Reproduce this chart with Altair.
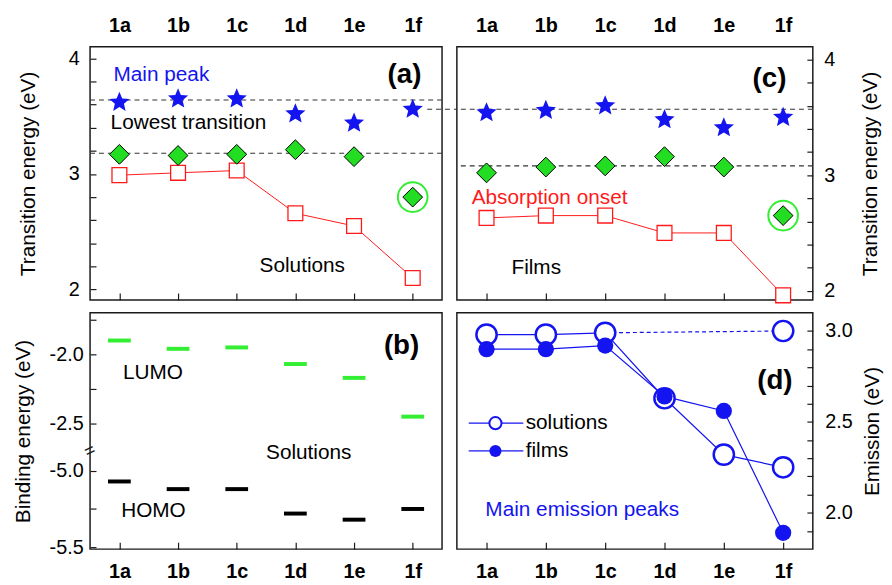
import altair as alt
import pandas as pd

FONT = "Liberation Sans"

# ---------------- data ----------------
cats = ['1a', '1b', '1c', '1d', '1e', '1f']
idx = list(range(len(cats)))

# (a) solutions
sol_main = [3.62, 3.65, 3.65, 3.52, 3.44, 3.56]
sol_lowest = [3.17, 3.16, 3.17, 3.21, 3.15, 2.80]
sol_onset = [2.99, 3.01, 3.03, 2.66, 2.55, 2.10]
sol_guides = [3.64, 3.18]
# (c) films
film_main = [3.54, 3.56, 3.60, 3.48, 3.41, 3.50]
film_lowest = [3.02, 3.07, 3.08, 3.16, 3.07, 2.65]
film_onset = [2.63, 2.65, 2.65, 2.50, 2.50, 1.96]
film_guides = [3.57, 3.08]
highlight_cat = '1f'
# (b) binding energies
lumo = [-1.90, -1.96, -1.95, -2.07, -2.17, -2.45]
homo = [-5.07, -5.12, -5.12, -5.28, -5.32, -5.25]
# (d) emission
em_solutions = [2.98, 2.98, 2.99, 2.63, 2.32, 2.25]
em_solutions_1f_high = 3.00
em_films = [2.90, 2.90, 2.92, 2.64, 2.56, 1.89]

# tick lists
trans_ticks = [2.0, 2.2, 2.4, 2.6, 2.8, 3.0, 3.2, 3.4, 3.6, 3.8, 4.0]
bind_top_ticks = [-1.75, -2.0, -2.25, -2.5]
bind_bot_ticks = [-5.0, -5.25, -5.5]
bind_labels = [-2.0, -2.5, -5.0, -5.5]
em_ticks = [1.9, 2.0, 2.1, 2.2, 2.3, 2.4, 2.5, 2.6, 2.7, 2.8, 2.9, 3.0]

# broken axis mapping for (b): lower segment drawn just below upper one
BREAK_U = -2.841
K = 1.104


def to_u(v):
    return v if v > -4 else BREAK_U + (v + 5.0) * K


# ---------------- style ----------------
W_L = 356
W_R = 360
H_TOP = 256
H_BOT = 239
BLUE = "#1414f0"
RED = "#ff1a1a"
GREEN = "#22dd22"
LGREEN = "#33ee33"
FRAME = "#1a1a1a"
ANN = 21

x_scale = alt.Scale(domain=[-0.5, 5.5], nice=False, zero=False)
cat_expr = "[" + ",".join(f"'{c}'" for c in cats) + "][round(datum.value)]"

STAR = ("M0,-1L0.2645,-0.364L0.951,-0.309L0.428,0.139L0.588,0.809L0,0.45"
        "L-0.588,0.809L-0.428,0.139L-0.951,-0.309L-0.2645,-0.364Z")


def ax_top():
    return alt.Axis(orient='top', values=idx, labelExpr=cat_expr, ticks=False, tickSize=0,
                    domain=False, grid=False, labelFontWeight='bold', labelFontSize=20,
                    labelPadding=12, labelAngle=0, title=None)


def ax_bottom_ticks():
    return alt.Axis(orient='bottom', values=idx, labels=False, ticks=True, tickSize=7,
                    offset=-7, domain=False, grid=False, title=None)


def ax_bottom_labels():
    return alt.Axis(orient='bottom', values=idx, labelExpr=cat_expr, ticks=True, tickSize=7,
                    offset=-7, domain=False, grid=False, labelFontWeight='bold',
                    labelFontSize=20, labelPadding=13, labelAngle=0, title=None)


int_expr = "abs(datum.value - round(datum.value)) < 0.001 ? format(datum.value, 'd') : ''"


def ax_trans(orient, lp, tp):
    kw = {}
    if orient == 'right':
        kw = dict(titleAngle=270, titleBaseline='top')
    return alt.Axis(orient=orient, values=trans_ticks, labelExpr=int_expr, tickSize=6, offset=-6,
                    domain=False, grid=False, labelFontSize=20, labelPadding=lp,
                    title='Transition energy (eV)', titleFontSize=21, titleFontWeight='normal',
                    titlePadding=tp, **kw)


def text_layer(df, X, Y):
    return alt.Chart(df).mark_text(align='left', baseline='middle', font=FONT).encode(
        x=X('i'), y=Y('v'),
        text='text:N',
        color=alt.Color('color:N', scale=None),
        size=alt.Size('size:Q', scale=None),
    )


def label_layer(df, X, Y):
    return alt.Chart(df).mark_text(align='center', baseline='middle', font=FONT,
                                   fontWeight='bold', fontSize=28, color='black').encode(
        x=X('i'), y=Y('v'), text='text:N')


def transition_panel(main, low, onset, guides, y_dom, y_orient, lp, tp, texts, plabel,
                     width, extend_first=False):
    df = pd.DataFrame({'i': idx, 'cat': cats, 'main': main, 'low': low, 'onset': onset})
    ys = alt.Scale(domain=y_dom, nice=False, zero=False)
    yax = ax_trans(y_orient, lp, tp)
    base = alt.Chart(df)

    def Y(f):
        return alt.Y(f'{f}:Q', scale=ys, axis=yax)

    def X(f, axis=None):
        return alt.X(f'{f}:Q', scale=x_scale, axis=axis)

    layers = []
    gdf = pd.DataFrame({'g': guides})
    layers.append(alt.Chart(gdf).mark_rule(strokeDash=[5, 4], color='#333', strokeWidth=1.1)
                  .encode(y=Y('g')))
    if extend_first:
        layers.append(alt.Chart(pd.DataFrame({'g': guides[:1]}))
                      .mark_rule(strokeDash=[5, 4], color='#333', strokeWidth=1.1)
                      .encode(x=alt.value(-30), x2=alt.value(0), y=Y('g')))
    layers.append(base.mark_line(color=RED, strokeWidth=1).encode(
        x=X('i', ax_bottom_ticks()), y=Y('onset')))
    layers.append(base.mark_point(shape='square', size=225, filled=True, fill='white',
                                  stroke=RED, strokeWidth=1.3, opacity=1).encode(
        x=X('i'), y=Y('onset')))
    layers.append(base.mark_point(shape=STAR, size=460, filled=True, color=BLUE,
                                  opacity=1).encode(x=X('i', ax_top()), y=Y('main')))
    layers.append(base.mark_point(shape='diamond', size=400, filled=True, fill=GREEN,
                                  stroke='black', strokeWidth=1, opacity=1).encode(
        x=X('i'), y=Y('low')))
    layers.append(base.transform_filter(alt.datum.cat == highlight_cat)
                  .mark_point(shape='circle', size=900, filled=False, stroke=LGREEN,
                              strokeWidth=2, opacity=1).encode(x=X('i'), y=Y('low')))
    layers.append(text_layer(texts, X, Y))
    layers.append(label_layer(plabel, X, Y))
    return alt.layer(*layers).resolve_axis(x='independent').properties(width=width,
                                                                       height=H_TOP)


# ---- (a)
a_texts = pd.DataFrame({
    'i': [-0.10, -0.15, 2.39], 'v': [3.855, 3.44, 2.20],
    'text': ['Main peak', 'Lowest transition', 'Solutions'],
    'color': [BLUE, 'black', 'black'], 'size': [ANN, ANN, ANN]})
a_label = pd.DataFrame({'i': [4.86], 'v': [3.855], 'text': ['(a)']})
panel_a = transition_panel(sol_main, sol_lowest, sol_onset, sol_guides, [1.91, 4.10],
                           'left', 11, 30, a_texts, a_label, W_L)

# ---- (c)
c_texts = pd.DataFrame({
    'i': [0.42, -0.25], 'v': [2.20, 2.80],
    'text': ['Films', 'Absorption onset'],
    'color': ['black', RED], 'size': [ANN, ANN]})
c_label = pd.DataFrame({'i': [4.77], 'v': [3.83], 'text': ['(c)']})
panel_c = transition_panel(film_main, film_lowest, film_onset, film_guides, [1.92, 4.11],
                           'right', 11, 25, c_texts, c_label, W_R, extend_first=True)

# ---- (b)
b_tick_u = bind_top_ticks + [to_u(t) for t in bind_bot_ticks]
b_expr = ""
for t in bind_labels:
    b_expr += f"abs(datum.value - ({to_u(t):.4f})) < 0.001 ? '{t:.1f}' : "
b_expr += "''"
ys_b = alt.Scale(domain=[-3.407, -1.70], nice=False, zero=False)
yax_b = alt.Axis(orient='left', values=b_tick_u, labelExpr=b_expr, tickSize=6, offset=-6,
                 domain=False, grid=False, labelFontSize=20, labelPadding=7,
                 title='Binding energy (eV)', titleFontSize=21, titleFontWeight='normal',
                 titlePadding=16)
xax_b = ax_bottom_labels()


def Xb(f):
    return alt.X(f'{f}:Q', scale=x_scale, axis=xax_b)


def Yb(f):
    return alt.Y(f'{f}:Q', scale=ys_b, axis=yax_b)


df_b = pd.DataFrame({'i': idx, 'lumo': lumo, 'homo': homo})
base_b = alt.Chart(df_b)
b_lumo = base_b.mark_tick(orient='horizontal', size=23, thickness=4, color=LGREEN,
                          opacity=1).encode(x=Xb('i'), y=Yb('lumo'))
b_homo = base_b.transform_calculate(u=f"{BREAK_U} + (datum.homo + 5) * {K}").mark_tick(
    orient='horizontal', size=23, thickness=4, color='black', opacity=1).encode(
    x=Xb('i'), y=Yb('u'))
b_break = alt.Chart(pd.DataFrame({'u': [-2.70], 't': ['=']})).mark_text(
    angle=335, fontSize=18, color=FRAME, font=FONT, baseline='middle', align='center').encode(
    x=alt.value(0), y=Yb('u'), text='t:N')
b_texts = pd.DataFrame({
    'i': [0.06, 0.03, 2.50], 'v': [-2.136, -3.129, -2.714],
    'text': ['LUMO', 'HOMO', 'Solutions'],
    'color': ['black', 'black', 'black'], 'size': [ANN, ANN, ANN]})
b_label = pd.DataFrame({'i': [4.81], 'v': [-1.943], 'text': ['(b)']})
panel_b = alt.layer(b_lumo, b_homo, b_break, text_layer(b_texts, Xb, Yb),
                    label_layer(b_label, Xb, Yb)).properties(width=W_L, height=H_BOT)

# ---- (d)
ys_d = alt.Scale(domain=[1.80, 3.10], nice=False, zero=False)
half_expr = ("abs(datum.value*2 - round(datum.value*2)) < 0.001 ? "
             "format(datum.value, '.1f') : ''")
yax_d = alt.Axis(orient='right', values=em_ticks, labelExpr=half_expr, tickSize=6, offset=-6,
                 domain=False, grid=False, labelFontSize=20, labelPadding=12,
                 title='Emission (eV)', titleFontSize=21, titleFontWeight='normal',
                 titlePadding=10, titleAngle=270, titleBaseline='top')
xax_d = ax_bottom_labels()


def Xd(f):
    return alt.X(f'{f}:Q', scale=x_scale, axis=xax_d)


def Yd(f):
    return alt.Y(f'{f}:Q', scale=ys_d, axis=yax_d)


df_d = pd.DataFrame({'i': idx, 'sol': em_solutions, 'film': em_films})
df_dash = pd.DataFrame({'i': [2, 5], 'sol': [em_solutions[2], em_solutions_1f_high]})
df_open = pd.DataFrame({'i': idx + [5], 'sol': em_solutions + [em_solutions_1f_high]})
base_d = alt.Chart(df_d)
d_sol_line = base_d.mark_line(color=BLUE, strokeWidth=1.2).encode(x=Xd('i'), y=Yd('sol'))
d_dash = alt.Chart(df_dash).mark_line(color=BLUE, strokeWidth=1.2, strokeDash=[4, 3]).encode(
    x=Xd('i'), y=Yd('sol'))
d_film_line = base_d.mark_line(color=BLUE, strokeWidth=1.2).encode(x=Xd('i'), y=Yd('film'))
d_open = alt.Chart(df_open).mark_point(shape='circle', size=420, filled=True, fill='white',
                                       stroke=BLUE, strokeWidth=2.5, opacity=1).encode(
    x=Xd('i'), y=Yd('sol'))
d_filled = base_d.mark_point(shape='circle', size=270, filled=True, color=BLUE,
                             opacity=1).encode(x=Xd('i'), y=Yd('film'))

leg = pd.DataFrame({'x0': [-0.30, -0.30], 'x1': [0.62, 0.62], 'xs': [0.15, 0.15],
                    'i': [0.66, 0.66], 'v': [2.493, 2.34],
                    'text': ['solutions', 'films'], 'color': ['black', 'black'],
                    'size': [ANN, ANN]})
leg_base = alt.Chart(leg)
d_leg_lines = leg_base.mark_rule(color=BLUE, strokeWidth=1.2).encode(
    x=Xd('x0'), x2='x1:Q', y=Yd('v'))
d_leg_open = leg_base.transform_filter(alt.datum.text == 'solutions').mark_point(
    shape='circle', size=150, filled=True, fill='white', stroke=BLUE, strokeWidth=2,
    opacity=1).encode(x=Xd('xs'), y=Yd('v'))
d_leg_filled = leg_base.transform_filter(alt.datum.text == 'films').mark_point(
    shape='circle', size=150, filled=True, color=BLUE, opacity=1).encode(
    x=Xd('xs'), y=Yd('v'))
d_texts = pd.DataFrame({'i': [-0.02], 'v': [2.015], 'text': ['Main emission peaks'],
                        'color': [BLUE], 'size': [ANN]})
d_label = pd.DataFrame({'i': [4.86], 'v': [2.727], 'text': ['(d)']})
panel_d = alt.layer(d_sol_line, d_dash, d_film_line, d_open, d_filled, d_leg_lines,
                    d_leg_open, d_leg_filled, text_layer(leg, Xd, Yd),
                    text_layer(d_texts, Xd, Yd), label_layer(d_label, Xd, Yd)
                    ).properties(width=W_R, height=H_BOT)

chart = alt.concat(panel_a, panel_c, panel_b, panel_d, columns=2,
                   spacing={'row': 13, 'column': 15}, bounds='flush', align='each'
                   ).configure_view(stroke=FRAME, strokeWidth=1.5
                   ).configure_axis(labelFont=FONT, titleFont=FONT, labelColor='black',
                                    titleColor='black', tickColor=FRAME, tickWidth=1.2
                   ).properties(padding={'left': 3, 'top': 3, 'right': 0, 'bottom': 0})

chart.save("out.html", embed_options={"renderer": "svg", "actions": False})
